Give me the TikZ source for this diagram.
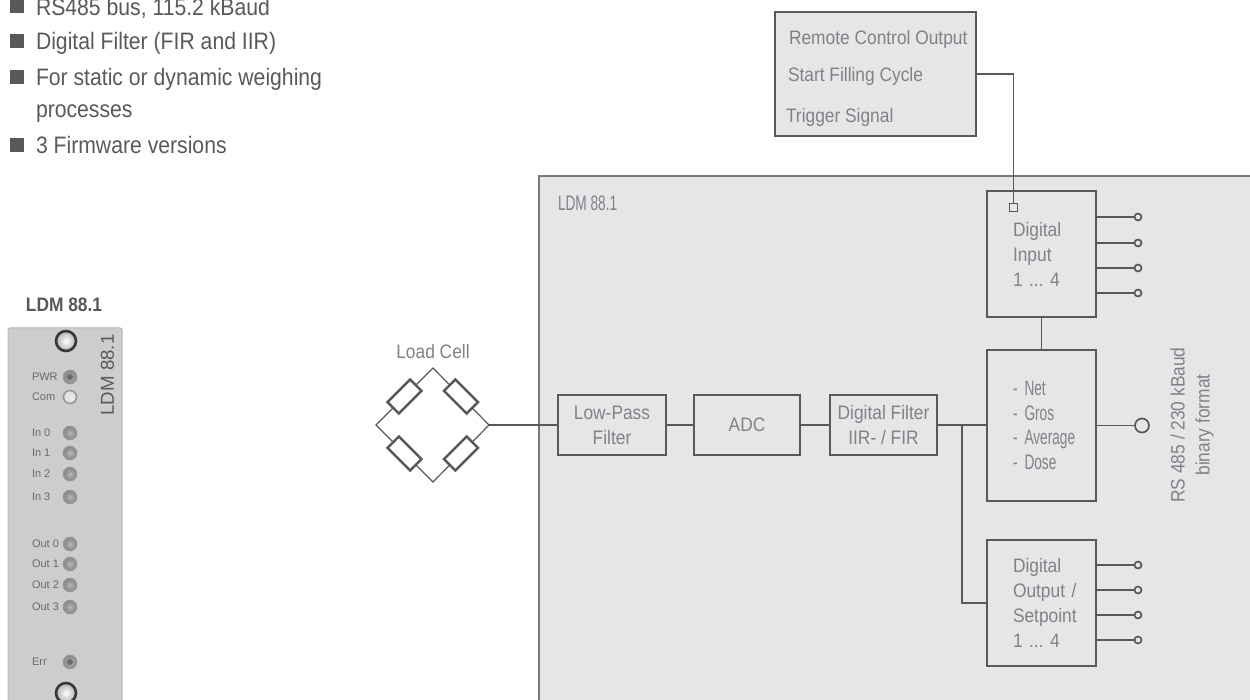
\documentclass[tikz,border=0pt]{standalone}
\usepackage{fontspec}
\usepackage{xcolor}
\usetikzlibrary{positioning,calc}
\setmainfont[FakeStretch=0.89]{Liberation Sans}
\newfontfamily\panelfont{Liberation Sans}
\newfontfamily\narrowfont[FakeStretch=0.65]{Liberation Sans}
\definecolor{lineGrey}{HTML}{58595B}
\definecolor{textGrey}{HTML}{808285}
\definecolor{moduleFill}{HTML}{E5E6E8}
\definecolor{panelFill}{HTML}{CDCDCD}

\begin{document}
\frenchspacing
\begin{tikzpicture}[
    x=1pt, y=-1pt,
    every node/.style={inner sep=0pt, outer sep=0pt},
    lbl/.style={text=textGrey, font=\fontsize{19.5}{25}\selectfont},
    bulletbox/.style={fill=lineGrey, minimum size=14pt},
    bullettxt/.style={text=lineGrey, anchor=base west, font=\fontsize{23.8}{32}\selectfont},
    box/.style={draw=lineGrey, line width=2.7pt, fill=moduleFill, text=textGrey, align=center, font=\fontsize{19.5}{25}\selectfont},
    lbox/.style={box, minimum width=109pt, text width=57pt, align=left},
    chainbox/.style={box, minimum height=60pt},
    wire/.style={draw=lineGrey, line width=1.7pt},
    tip/.style={circle, draw=lineGrey, line width=1.7pt, fill=moduleFill, minimum size=7pt},
    res/.style={draw=lineGrey, line width=2.4pt, fill=white, minimum width=32pt, minimum height=16pt},
    panellbl/.style={text=lineGrey!90, anchor=west, font=\panelfont\fontsize{11}{13}\selectfont},
    led/.style={circle, draw=black!42, line width=1.5pt, minimum size=13pt, inner color=black!28, outer color=black!48},
    screw/.style={circle, draw=black!78, line width=2.6pt, minimum size=20pt, inner color=white, outer color=black!30}
  ]
    \useasboundingbox (0,0) rectangle (1250,700);
    \clip (0,0) rectangle (1250,700);

    % feature list
    \node[bulletbox] (bull1) at (17,6) {};
    \node[bulletbox] (bull2) at (17,41) {};
    \node[bulletbox] (bull3) at (17,77) {};
    \node[bulletbox] (bull4) at (17,145) {};
    \node[bullettxt] (feat1) at (36,16) {RS485 bus, 115.2 kBaud};
    \node[bullettxt] (feat2) at (36,50) {Digital Filter (FIR and IIR)};
    \node[bullettxt] (feat3) at (36,86) {For static or dynamic weighing};
    \node[bullettxt] (feat3b) at (36,118) {processes};
    \node[bullettxt] (feat4) at (36,154) {3 Firmware versions};

    % front panel
    \node[text=lineGrey, font=\bfseries\fontsize{19.5}{22}\selectfont] (ptitle) at (64,305) {LDM 88.1};
    \fill[panelFill, draw=black!28, line width=1pt, rounded corners=2pt] (8,705) -- (8,328) -- (122,328) -- (122,705);
    \node[screw] (scr1) at (66,341) {};
    \node[screw] (scr2) at (66,693) {};
    \node[rotate=90, text=lineGrey, font=\panelfont\fontsize{18.7}{20}\selectfont] (pname) at (107.5,375) {LDM 88.1};
    \foreach \lab/\ypos/\nm in {PWR/377/pwr, In 0/433/ina, In 1/453/inb, In 2/474/inc, In 3/497/ind,
        Out 0/544/outa, Out 1/564/outb, Out 2/585/outc, Out 3/607/outd, Err/662/err} {
      \node[panellbl] (l\nm) at (32,\ypos) {\lab};
      \node[led] (\nm) at (70,\ypos) {};
    }
    \node[panellbl] (lcom) at (32,397) {Com};
    \node[led, inner color=black!8, outer color=black!12] (com) at (70,397) {};
    \node[circle, fill=black!58, minimum size=6pt] (pwrc) at (pwr) {};
    \node[circle, fill=black!58, minimum size=6pt] (errc) at (err) {};

    % module outline and remote box
    \fill[moduleFill, draw=lineGrey!80, line width=1.3pt] (1260,176) -- (539,176) -- (539,710) -- (1260,710) -- cycle;
    \node[lbl, anchor=west, font=\narrowfont\fontsize{21}{25}\selectfont] (mname) at (558,203) {LDM 88.1};
    \node[box, minimum width=201pt, minimum height=124pt] (remote) at (875.5,74) {};
    \node[lbl, anchor=base west] (rem1) at (789,45) {Remote Control Output};
    \node[lbl, anchor=base west] (rem2) at (788,82) {Start Filling Cycle};
    \node[lbl, anchor=base west] (rem3) at (786,123) {Trigger Signal};

    % load cell bridge
    \node[lbl] (lcell) at (433,352) {Load Cell};
    \coordinate (bl) at (376,425);
    \coordinate (bt) at (433,368);
    \coordinate (br) at (489,425);
    \coordinate (bb) at (433,482);
    \node[res, rotate=45] (r1) at ($(bl)!0.5!(bt)$) {};
    \node[res, rotate=-45] (r2) at ($(bt)!0.5!(br)$) {};
    \node[res, rotate=-45] (r3) at ($(bl)!0.5!(bb)$) {};
    \node[res, rotate=45] (r4) at ($(bb)!0.5!(br)$) {};
    \draw[wire, line width=1.2pt] (r1) -- (bl) -- (r3);
    \draw[wire, line width=1.2pt] (r1) -- (bt) -- (r2);
    \draw[wire, line width=1.2pt] (r2) -- (br) -- (r4);
    \draw[wire, line width=1.2pt] (r3) -- (bb) -- (r4);

    % signal chain
    \node[chainbox, minimum width=108pt] (lpf) at (612,425) {Low-Pass\\Filter};
    \node[chainbox, minimum width=106pt, right=28pt of lpf] (adc) {ADC};
    \node[chainbox, minimum width=107pt, right=30pt of adc] (dfilt) {Digital Filter\\IIR- / FIR};
    \node[lbox, minimum height=126pt] (dinp) at (1041.5,254) {Digital\\Input\\1 ... 4};
    \node[lbox, minimum height=151pt, font=\narrowfont\fontsize{21}{24.5}\selectfont] (calc) at (1041.5,425.5) {- Net\\- Gros\\\mbox{- Average}\\- Dose};
    \node[lbox, minimum height=126pt] (dout) at (1041.5,603) {Digital\\\mbox{Output /}\\\mbox{Setpoint}\\1 ... 4};
    \node[draw=lineGrey, line width=1.6pt, fill=moduleFill, minimum size=8pt] (dsq) at (1013.5,207.5) {};

    \draw[wire] (br) -- (lpf);
    \draw[wire] (lpf) -- (adc);
    \draw[wire] (adc) -- (dfilt);
    \draw[wire] (dfilt) -- (calc.west |- dfilt);
    \draw[wire] (dinp) -- (calc);
    \coordinate (branch) at (962,425);
    \draw[wire] (branch) |- (dout.west);
    \coordinate (remout) at (976,74);
    \draw[wire] (remout) -| (dsq);

    % outputs
    \node[tip, minimum size=14pt] (bus) at (1142,425.5) {};
    \draw[wire] (calc) -- (bus);
    \node[rotate=90, text=textGrey, align=center, font=\fontsize{19.5}{25}\selectfont] (buslbl) at (1192,425) {RS 485 / 230 kBaud\\binary format};
    \foreach \ypos/\nm in {217/ia, 243/ib, 268/ic, 293/id} {
      \node[tip] (\nm) at (1138,\ypos) {};
      \draw[wire] (dinp.east |- \nm) -- (\nm);
    }
    \foreach \ypos/\nm in {565/oa, 590/ob, 615/oc, 640/od} {
      \node[tip] (\nm) at (1138,\ypos) {};
      \draw[wire] (dout.east |- \nm) -- (\nm);
    }
  \end{tikzpicture}
\end{document}
